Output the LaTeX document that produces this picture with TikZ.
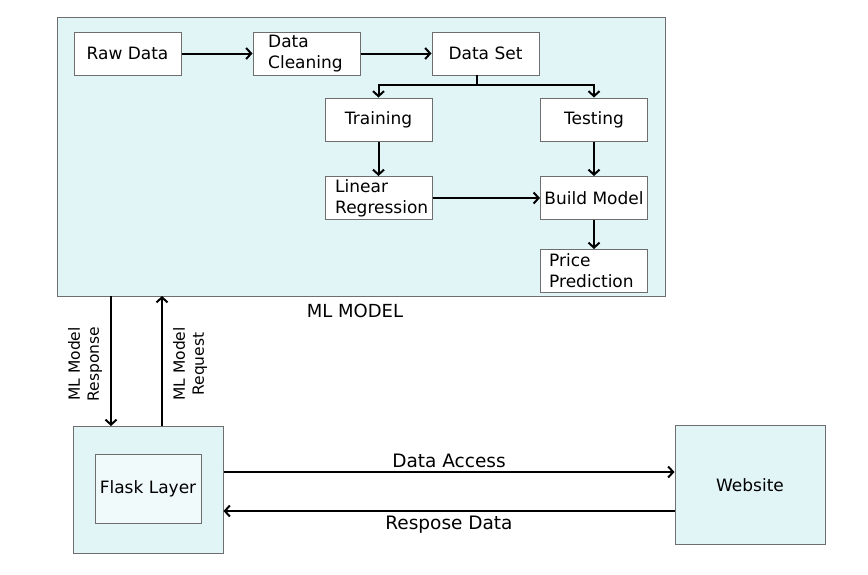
\documentclass[tikz,border=0pt]{standalone}
\usepackage{fontspec}
\setmainfont{DejaVu Sans}
\usetikzlibrary{arrows.meta}
\definecolor{mlfill}{HTML}{E1F4F6}
\definecolor{innerfill}{HTML}{F0FAFB}
\definecolor{edgegrey}{HTML}{6E6E6E}
\tikzset{
  box/.style={draw=edgegrey, line width=1pt, fill=white, minimum width=107pt, minimum height=43pt, inner sep=0pt, font=\fontsize{17}{19}\selectfont},
  lbl/.style={font=\fontsize{17}{19}\selectfont, inner sep=0pt},
  twoline/.style={lbl, anchor=west, align=left, font=\fontsize{17}{21}\selectfont},
  conn/.style={line width=2pt, -{Straight Barb[length=5pt,width=11pt,line width=2pt]}},
  plain/.style={line width=2pt}
}
\begin{document}
\begin{tikzpicture}[x=1pt,y=-1pt]
\useasboundingbox (0,0) rectangle (868,574);
% ML model container
\node[draw=edgegrey, fill=mlfill, line width=1pt, minimum width=608pt, minimum height=279pt, inner sep=0pt] (ml) at (361,156.5) {};
\node[lbl, font=\fontsize{18}{20}\selectfont] (mllabel) at (355,311) {ML MODEL};
% boxes
\node[box] (raw) at (127.5,53.5) {Raw Data};
\node[box] (clean) at (306.5,53.5) {};
\node[twoline] (cleant) at (268,53.5) {Data\\Cleaning};
\node[box] (set) at (485.5,53.5) {Data Set};
\node[box] (train) at (378.5,119.5) {Training};
\node[box] (test) at (594,119.5) {Testing};
\node[box] (lr) at (378.5,198) {};
\node[twoline] (lrt) at (335,198) {Linear\\Regression};
\node[box] (build) at (594,198) {Build Model};
\node[box] (price) at (594,271) {};
\node[twoline] (pricet) at (549,271) {Price\\Prediction};
% flow arrows
\draw[conn] (raw.east) -- (clean.west);
\draw[conn] (clean.east) -- (set.west);
\coordinate (split) at (477,85);
\draw[plain] (477,75) -- (split);
\draw[conn] (split) -| (train.north);
\draw[conn] (split) -| (test.north);
\draw[conn] (train.south) -- (lr.north);
\draw[conn] (test.south) -- (build.north);
\draw[conn] (lr.east) -- (build.west);
\draw[conn] (build.south) -- (price.north);
% Flask
\node[draw=edgegrey, fill=mlfill, line width=1pt, minimum width=150pt, minimum height=127pt, inner sep=0pt] (flask) at (148,489.5) {};
\node[draw=edgegrey, fill=innerfill, line width=1pt, minimum width=106pt, minimum height=69pt, inner sep=0pt, font=\fontsize{17}{19}\selectfont] (flaskin) at (148,488.5) {Flask Layer};
% Website
\node[draw=edgegrey, fill=mlfill, line width=1pt, minimum width=150pt, minimum height=119pt, inner sep=0pt, font=\fontsize{17}{19}\selectfont] (web) at (750,485) {Website};
% vertical arrows
\coordinate (respTop) at (111,296);
\coordinate (respBot) at (111,426);
\coordinate (reqBot) at (162,426);
\coordinate (reqTop) at (162,296);
\draw[conn] (respTop) -- (respBot);
\draw[conn] (reqBot) -- (reqTop);
\node[lbl, rotate=90, align=center, font=\fontsize{15.5}{19}\selectfont] (resplbl) at (85,364) {ML Model\\Response};
\node[lbl, rotate=90, align=center, font=\fontsize{15.5}{19}\selectfont] (reqlbl) at (190,364) {ML Model\\Request};
% horizontal arrows
\draw[conn] (flask.east |- 0,472) -- (web.west |- 0,472) node[midway, above=3pt, lbl, font=\fontsize{18.5}{20}\selectfont] (da) {Data Access};
\draw[conn] (web.west |- 0,511) -- (flask.east |- 0,511) node[midway, below=4pt, lbl, font=\fontsize{18.5}{20}\selectfont] (rd) {Respose Data};
\end{tikzpicture}
\end{document}
